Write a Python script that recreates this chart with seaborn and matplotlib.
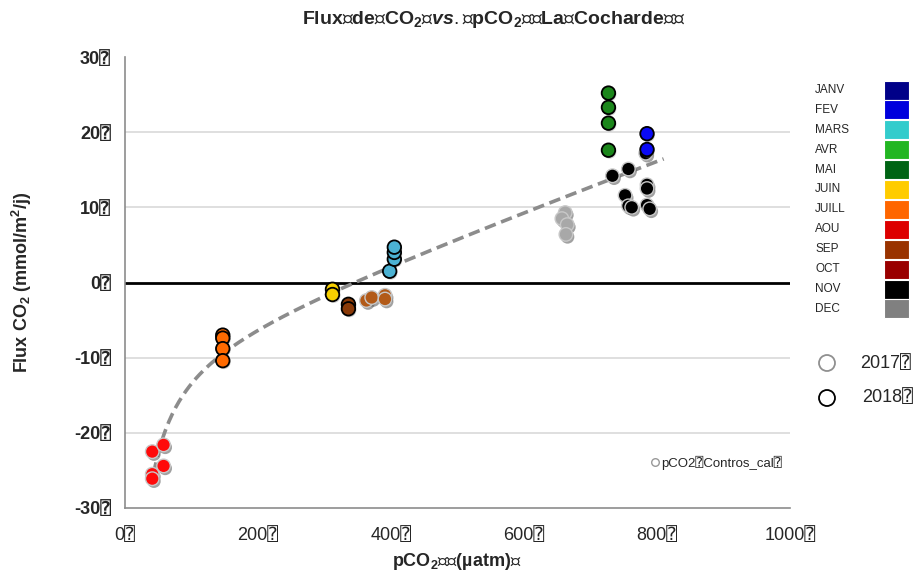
import numpy as np
import pandas as pd
import matplotlib
matplotlib.use("Agg")
import matplotlib.pyplot as plt
import matplotlib.patheffects as pe
from matplotlib.patches import Rectangle, Ellipse
import seaborn as sns

# ---------------- data ----------------
months = ["JANV", "FEV", "MARS", "AVR", "MAI", "JUIN", "JUILL", "AOU", "SEP", "OCT", "NOV", "DEC"]
month_colors = ["#000088", "#0000DD", "#33CCCC", "#22B622", "#006414", "#FFCC00",
                "#FF6600", "#DD0000", "#993300", "#990000", "#000000", "#808080"]

# point colours as they appear on the chart
point_colors = {"AOU": "#FF0A0A", "JUILL": "#FF6A00", "JUIN": "#F7D000", "SEP18": "#8A3A08",
                "SEP17": "#B25A18", "MARS": "#4BB2D3", "DEC": "#A8A8A8", "MAI": "#1B861B",
                "FEV": "#0A0AF5", "NOV": "#000000"}

grp_2017 = ["AOU"] * 5 + ["SEP17"] * 4 + ["DEC"] * 4 + ["NOV"] * 10
pco2_2017 = [41, 58, 58, 41, 41,
             363, 371, 391, 391,
             662, 657, 665, 663,
             783, 733, 757, 752, 757, 762, 785, 785, 785, 789]
flux_2017 = [-22.5, -21.6, -24.4, -25.5, -26.1,
             -2.4, -2.0, -1.7, -2.2,
             9.3, 8.5, 7.7, 6.4,
             17.2, 14.2, 15.1, 11.6, 10.2, 10.0, 13.0, 12.5, 10.3, 9.8]

grp_2018 = ["JUILL"] * 4 + ["JUIN"] * 2 + ["SEP18"] * 2 + ["MARS"] * 4 + ["MAI"] * 4 + ["FEV"] * 2
pco2_2018 = [147, 147, 147, 147,
             312, 312,
             336, 336,
             398, 405, 405, 405,
             727, 727, 727, 727,
             785, 785]
flux_2018 = [-7.0, -7.4, -8.8, -10.4,
             -0.9, -1.6,
             -2.9, -3.5,
             1.5, 3.1, 4.0, 4.7,
             17.6, 21.2, 23.3, 25.2,
             17.7, 19.8]

trend_coef = [-9.1, 0.0327, -763.0]
trend_span = [43, 810]

x_ticks = [0, 200, 400, 600, 800, 1000]
y_ticks = [-30, -20, -10, 0, 10, 20, 30]
BOX = "\u2370"

df17 = pd.DataFrame({"pco2": pco2_2017, "flux": flux_2017, "grp": grp_2017})
df18 = pd.DataFrame({"pco2": pco2_2018, "flux": flux_2018, "grp": grp_2018})

# ---------------- figure ----------------
sns.set_theme(style="white")
FAM = ["Liberation Sans", "DejaVu Sans", "DejaVu Sans Mono"]
plt.rcParams["font.family"] = FAM
plt.rcParams["mathtext.fontset"] = "custom"
plt.rcParams["mathtext.rm"] = "Liberation Sans"
plt.rcParams["mathtext.bf"] = "Liberation Sans:bold"
plt.rcParams["mathtext.it"] = "Liberation Sans:italic:bold"

W, H = 919, 572
fig = plt.figure(figsize=(W / 100, H / 100), dpi=100)
L, R, T, B = 125, 790, 57, 508
ax = fig.add_axes([L / W, 1 - B / H, (R - L) / W, (B - T) / H])

ax.set_xlim(0, 1000)
ax.set_ylim(-30, 30)

for yv in [-20, -10, 10, 20]:
    ax.axhline(yv, color="#D9D9D9", lw=1.2, zorder=0)
ax.axhline(0, color="black", lw=2, zorder=1)

xt = np.linspace(trend_span[0], trend_span[1], 300)
trend = pd.DataFrame({"pco2": xt, "flux": trend_coef[0] + trend_coef[1] * xt + trend_coef[2] / xt})
sns.lineplot(data=trend, x="pco2", y="flux", color="#8C8C8C", lw=2.6, ax=ax, zorder=2,
             dashes=False, estimator=None, sort=False)
ax.lines[-1].set_linestyle((0, (3.2, 1.6)))

sns.scatterplot(data=df17, x="pco2", y="flux", hue="grp", palette=point_colors,
                s=95, edgecolor="#C8C8C8", linewidth=1.0, legend=False, ax=ax, zorder=3)
shadow17 = [pe.SimplePatchShadow(offset=(1.2, -1.8), shadow_rgbFace="#555555", alpha=0.55), pe.Normal()]
for coll in ax.collections:
    coll.set_path_effects(shadow17)
n = len(ax.collections)
sns.scatterplot(data=df18, x="pco2", y="flux", hue="grp", palette=point_colors,
                s=95, edgecolor="black", linewidth=1.3, legend=False, ax=ax, zorder=4)
for coll in ax.collections[n:]:
    coll.set_path_effects([pe.SimplePatchShadow(offset=(0.8, -1.2), shadow_rgbFace="#777777", alpha=0.35),
                           pe.Normal()])

# axes styling
ax.set_xticks(x_ticks)
ax.set_xticklabels([f"{v}{BOX}" for v in x_ticks], fontsize=13, family=FAM)
ax.set_yticks(y_ticks)
ax.set_yticklabels([f"{v}{BOX}" for v in y_ticks], fontsize=13, fontweight="bold", family=FAM)
for s in ["top", "right"]:
    ax.spines[s].set_visible(False)
for s in ["left", "bottom"]:
    ax.spines[s].set_color("#8C8C8C")
    ax.spines[s].set_linewidth(1.2)
ax.tick_params(axis="both", direction="out", length=6, width=1, color="#8C8C8C", pad=4)
ax.tick_params(axis="x", pad=8)
ax.set_xlabel("")
ax.set_ylabel("")

# axis titles
fig.text(457 / W, 1 - 562 / H, "pCO$_\\mathbf{2}$" + BOX + BOX + "(µatm)" + BOX, ha="center", va="center",
         fontsize=13, fontweight="bold", family=FAM)
fig.text(22 / W, 1 - 282 / H, "Flux CO$_\\mathbf{2}$ (mmol/m$^\\mathbf{2}$/j)", ha="center", va="center",
         rotation=90, fontsize=13, fontweight="bold", family=FAM)

# title
fig.text(494 / W, 1 - 20 / H,
         "Flux" + BOX + "de" + BOX + "CO$_\\mathbf{2}$" + BOX + "$\\mathit{vs.}$" + BOX + "pCO$_\\mathbf{2}$"
         + BOX + BOX + "La" + BOX + "Cocharde" + BOX + BOX,
         ha="center", va="center", fontsize=14, fontweight="bold", family=FAM)

# month legend
row0, dy = 90, 19.9
for i, (m, c) in enumerate(zip(months, month_colors)):
    yc = row0 + i * dy
    fig.text(815 / W, 1 - yc / H, m, ha="left", va="center", fontsize=8.5, family=FAM)
    fig.patches.append(Rectangle((884 / W, 1 - (yc + 9.5) / H), 25 / W, 19 / H,
                                 transform=fig.transFigure, facecolor=c, edgecolor="white", lw=0.8))

# year legend
for yc, ec in [(363, "#909090"), (398, "black")]:
    fig.patches.append(Ellipse((827 / W, 1 - yc / H), 16 / W, 16 / H, transform=fig.transFigure,
                               facecolor="white", edgecolor=ec, lw=1.3))
fig.text(860 / W, 1 - 363 / H, "2017" + BOX, ha="left", va="center", fontsize=13, family=FAM)
fig.text(862 / W, 1 - 398 / H, "2018" + BOX, ha="left", va="center", fontsize=13, family=FAM)

# series annotation
ax.scatter([0.797], [0.101], transform=ax.transAxes, s=30, facecolor="white", edgecolor="#999999", lw=1, zorder=5)
ax.text(0.807, 0.101, "pCO2" + BOX + "Contros_cal" + BOX, transform=ax.transAxes, ha="left", va="center",
        fontsize=9.5, family=FAM)

fig.savefig("out.png", dpi=100)
